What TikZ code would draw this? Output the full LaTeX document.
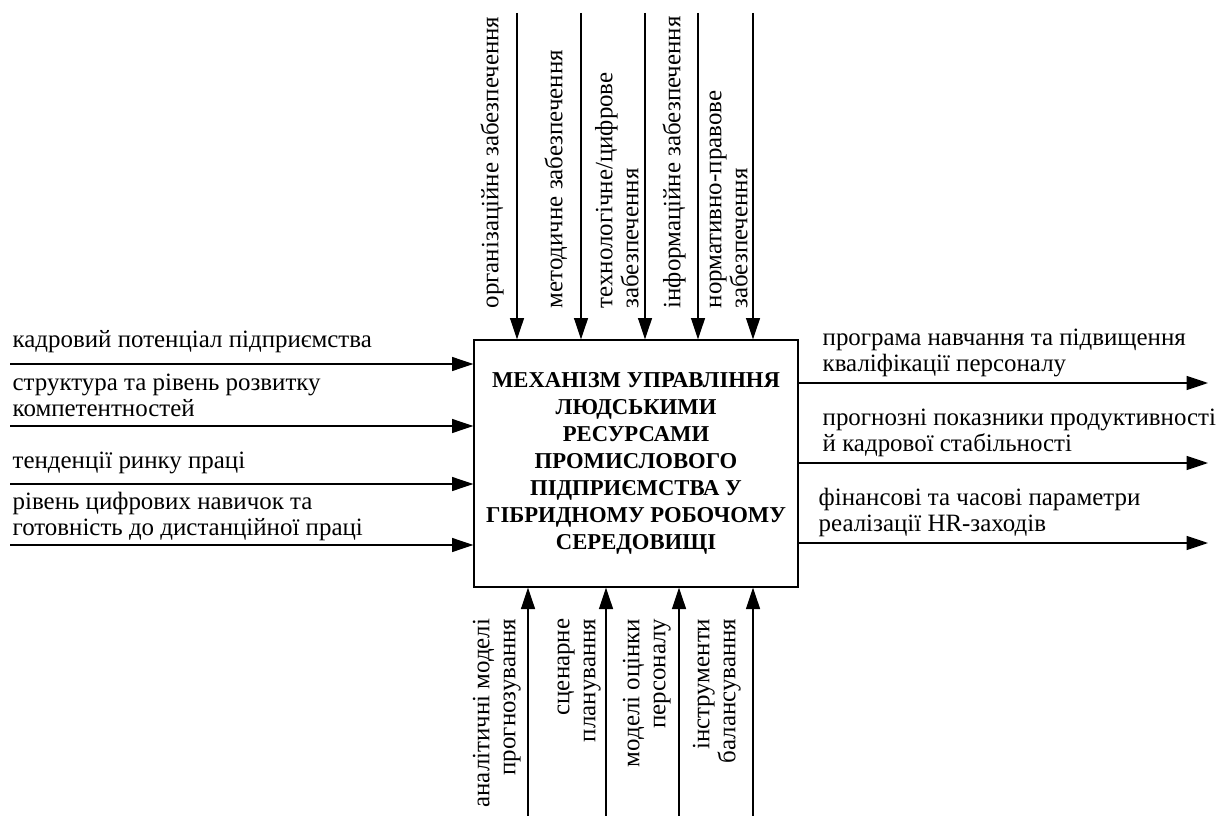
\documentclass[tikz,border=0pt]{standalone}
\usepackage{fontspec}
\setmainfont{Liberation Serif}
\usetikzlibrary{arrows.meta}

\begin{document}
\begin{tikzpicture}[x=0.75pt, y=-0.75pt, line width=1pt, >={Triangle[length=16pt,width=10.5pt]},
  lbl/.style={inner sep=0pt, text depth=0pt, font=\fontsize{18.7}{19.5}\selectfont},
  upl/.style={lbl, rotate=90, anchor=south west, align=left},
  dnl/.style={lbl, rotate=90, anchor=south east, align=right},
  sidel/.style={lbl, anchor=south west, align=left}]
  \useasboundingbox (0,0) rectangle (1219,816);
  % central block
  \node[draw, minimum width=243pt, minimum height=185.25pt, inner sep=0pt, align=center,
    font=\fontsize{17}{20.2}\selectfont\bfseries] (mech) at (636,463.5)
    {МЕХАНІЗМ УПРАВЛІННЯ\\ЛЮДСЬКИМИ\\РЕСУРСАМИ\\ПРОМИСЛОВОГО\\ПІДПРИЄМСТВА У\\ГІБРИДНОМУ РОБОЧОМУ\\СЕРЕДОВИЩІ};
  % controls (top)
  \foreach \x/\n in {517/t1, 581/t2, 645/t3, 698/t4, 753/t5} {
    \coordinate (\n) at (\x,13);
    \draw[->] (\n) -- (\n |- mech.north);
  }
  % mechanisms (bottom)
  \foreach \x/\n in {528/b1, 606/b2, 679/b3, 753/b4} {
    \coordinate (\n) at (\x,816);
    \draw[->] (\n) -- (\n |- mech.south);
  }
  % inputs
  \foreach \y/\n in {364/l1, 426/l2, 484/l3, 545/l4} {
    \coordinate (\n) at (10,\y);
    \draw[->] (\n) -- (\n -| mech.west);
  }
  % outputs
  \foreach \y/\n in {383/r1, 463/r2, 543/r3} {
    \coordinate (\n) at (1208,\y);
    \draw[->] (\n -| mech.east) -- (\n);
  }
  % labels
  \node[upl] (tl1) at (499,309) {організаційне забезпечення};
  \node[upl] (tl2) at (563,309) {методичне забезпечення};
  \node[upl] (tl3) at (639,309) {технологічне/цифрове\\забезпечення};
  \node[upl] (tl4) at (681,309) {інформаційне забезпечення};
  \node[upl] (tl5) at (748,309) {нормативно-правове\\забезпечення};
  \node[dnl] (bl1) at (516,618) {аналітичні моделі\\прогнозування};
  \node[dnl] (bl2) at (596,618) {сценарне\\планування};
  \node[dnl] (bl3) at (666,618) {моделі оцінки\\персоналу};
  \node[dnl] (bl4) at (736,618) {інструменти\\балансування};
  \node[sidel] (ll1) at (12,348) {кадровий потенціал підприємства};
  \node[sidel] (ll2) at (12,417) {структура та рівень розвитку\\компетентностей};
  \node[sidel] (ll3) at (12,469) {тенденції ринку праці};
  \node[sidel] (ll4) at (12,536) {рівень цифрових навичок та\\готовність до дистанційної праці};
  \node[sidel] (rl1) at (822,372) {програма навчання та підвищення\\кваліфікації персоналу};
  \node[sidel] (rl2) at (822,452) {прогнозні показники продуктивності\\й кадрової стабільності};
  \node[sidel] (rl3) at (818,532) {фінансові та часові параметри\\реалізації HR-заходів};
\end{tikzpicture}
\end{document}
